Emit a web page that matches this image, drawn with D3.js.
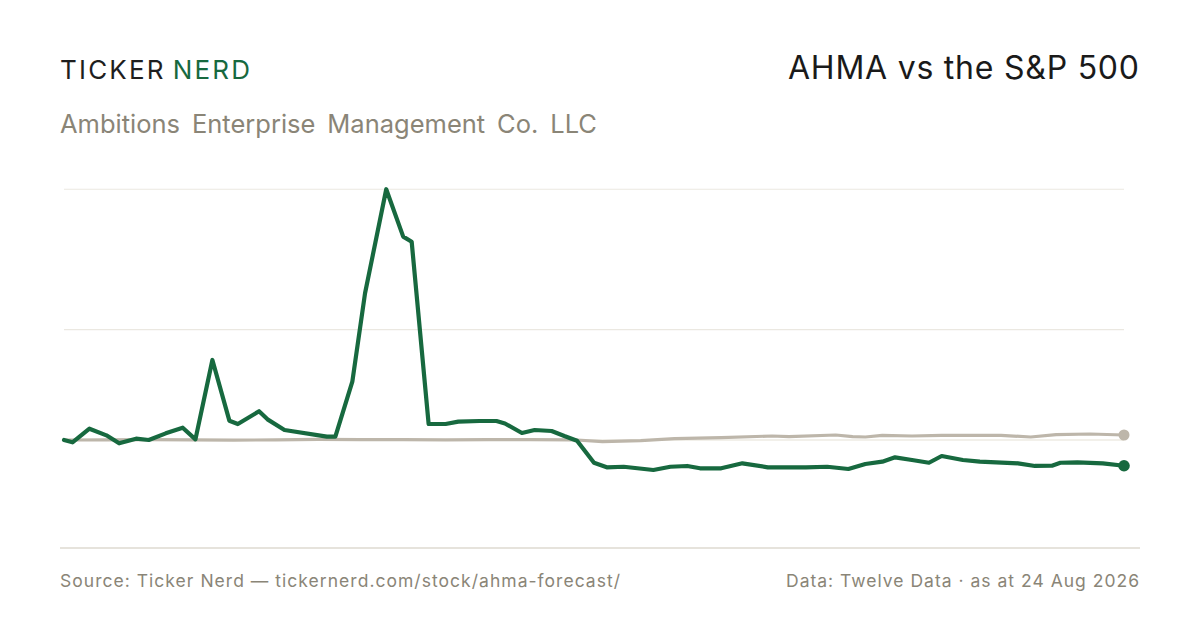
<!DOCTYPE html>
<html><head><meta charset="utf-8">
<script src="https://cdn.jsdelivr.net/npm/d3@7/dist/d3.min.js"></script>
<style>
html,body{margin:0;padding:0;background:#fff;}
svg{display:block;font-family:Inter,"Noto Sans",sans-serif;}
</style></head>
<body>
<svg id="c" width="1200" height="630"></svg>
<script>
// Trading-day index since start, and % change from start
const ahmaDays = [0,2,6,10,13,17,20,24,28,31,35,39,41,46,48,52,62,64,68,71,76,80,82,86,90,93,98,102,104,108,111,115,118,121,125,128,132,139,143,147,150,155,160,166,175,180,185,189,193,196,200,204,207,212,216,225,229,233,235,239,245,250];
const ahmaPct  = [0,-2.1,10.2,4.2,-3.0,1.2,0,6.0,11.1,0.6,72.1,17.4,14.4,25.9,18.6,9.0,3.0,3.0,52.5,132.2,225.9,183.2,178.6,14.4,14.4,16.5,17.1,17.1,14.9,6.3,9.0,8.1,3.6,-0.6,-20.5,-24.6,-24.1,-27.0,-24.1,-23.4,-25.5,-25.5,-21.0,-24.6,-24.6,-24.1,-26.1,-21.6,-19.5,-15.6,-18.0,-20.5,-14.4,-18.0,-19.5,-21.0,-23.4,-23.2,-20.5,-20.1,-21.0,-23.2];
const spxDays = [0,10,20,30,40,50,60,70,80,90,100,110,120,127,136,144,155,167,171,182,186,189,193,200,207,221,228,234,242,250];
const spxPct  = [0,0.2,0.3,0.1,-0.2,0.2,0.5,0.3,0.3,0.2,0.4,0.3,0.2,-1.5,-0.6,1.2,2.1,3.6,3.0,4.5,3.0,2.7,4.2,3.6,4.2,4.2,2.7,4.8,5.4,4.5];

const brand1 = "TICKER", brand2 = "NERD";
const title = "AHMA vs the S&P 500";
const subtitle = "Ambitions Enterprise Management Co. LLC";
const sourceText = "Source: Ticker Nerd \u2014 tickernerd.com/stock/ahma-forecast/";
const dataText = "Data: Twelve Data \u00b7 as at 24 Aug 2026";

const green = "#17693f", grey = "#bdb6aa", muted = "#8a8577";
const svg = d3.select("#c");

const x = d3.scaleLinear().domain([0, 250]).range([64, 1124]);
const y = d3.scaleLinear().domain([0, 100]).range([440, 329]);

const gMin = d3.min(ahmaPct), gMax = d3.max(ahmaPct);
const gridVals = [gMax, (gMin + gMax) / 2];

svg.append("g").selectAll("line").data(gridVals).join("line")
  .attr("x1", 64).attr("x2", 1124)
  .attr("y1", d => y(d)).attr("y2", d => y(d))
  .attr("stroke", "#ebe8e1").attr("stroke-width", 1.2);

svg.append("line").attr("x1", 64).attr("x2", 1124)
  .attr("y1", y(0)).attr("y2", y(0))
  .attr("stroke", "#e6e1d6").attr("stroke-width", 1.2);

svg.append("line").attr("x1", 60).attr("x2", 1140)
  .attr("y1", 548).attr("y2", 548)
  .attr("stroke", "#dedad0").attr("stroke-width", 1.5);

const line = d3.line().x(d => x(d[0])).y(d => y(d[1]));
const spx = spxDays.map((d, i) => [d, spxPct[i]]);
const ahma = ahmaDays.map((d, i) => [d, ahmaPct[i]]);

svg.append("path").datum(spx).attr("d", line)
  .attr("fill", "none").attr("stroke", grey).attr("stroke-width", 3.2)
  .attr("stroke-linejoin", "round").attr("stroke-linecap", "round");
svg.append("path").datum(ahma).attr("d", line)
  .attr("fill", "none").attr("stroke", green).attr("stroke-width", 4.2)
  .attr("stroke-linejoin", "round").attr("stroke-linecap", "round");

const sl = spx[spx.length - 1], al = ahma[ahma.length - 1];
svg.append("circle").attr("cx", x(sl[0])).attr("cy", y(sl[1])).attr("r", 5.5).attr("fill", grey);
svg.append("circle").attr("cx", x(al[0])).attr("cy", y(al[1])).attr("r", 5.8).attr("fill", green);

// fit a text element horizontally into [left, right] using letter-spacing
function fit(t, left, right) {
  t.attr("letter-spacing", 0).attr("x", left).attr("text-anchor", "start");
  const n = t.text().length;
  const w = t.node().getComputedTextLength();
  t.attr("letter-spacing", (right - left - w) / (n - 1));
}
// fit using word-spacing plus a little letter-spacing
function fitWords(t, left, right, ls) {
  t.attr("letter-spacing", ls).attr("word-spacing", 0).attr("x", left).attr("text-anchor", "start");
  const words = t.text().split(" ").length;
  const w = t.node().getComputedTextLength() - ls;
  t.attr("word-spacing", (right - left - w) / (words - 1));
}

const b = svg.append("text").attr("x", 60).attr("y", 79).attr("font-size", 26);
b.append("tspan").attr("fill", "#1e1e1e").text(brand1);
b.append("tspan").attr("fill", green).text("\u2009" + brand2);
{
  b.attr("letter-spacing", 0);
  const w = b.node().getComputedTextLength();
  const n = (brand1 + "\u2009" + brand2).length;
  b.attr("letter-spacing", (250 - 60 - w) / (n - 1));
}

const tt = svg.append("text").attr("y", 79).attr("font-size", 32).attr("fill", "#1a1a1a").text(title);
fit(tt, 788, 1139);

const st = svg.append("text").attr("y", 133).attr("font-size", 25.5).attr("fill", muted).text(subtitle);
fitWords(st, 60, 597, 0);

const src = svg.append("text").attr("y", 587).attr("font-size", 17.5).attr("fill", muted).text(sourceText);
fit(src, 60, 620);
const dt = svg.append("text").attr("y", 587).attr("font-size", 17.5).attr("fill", muted).text(dataText);
fit(dt, 786, 1139);
</script>
</body></html>
